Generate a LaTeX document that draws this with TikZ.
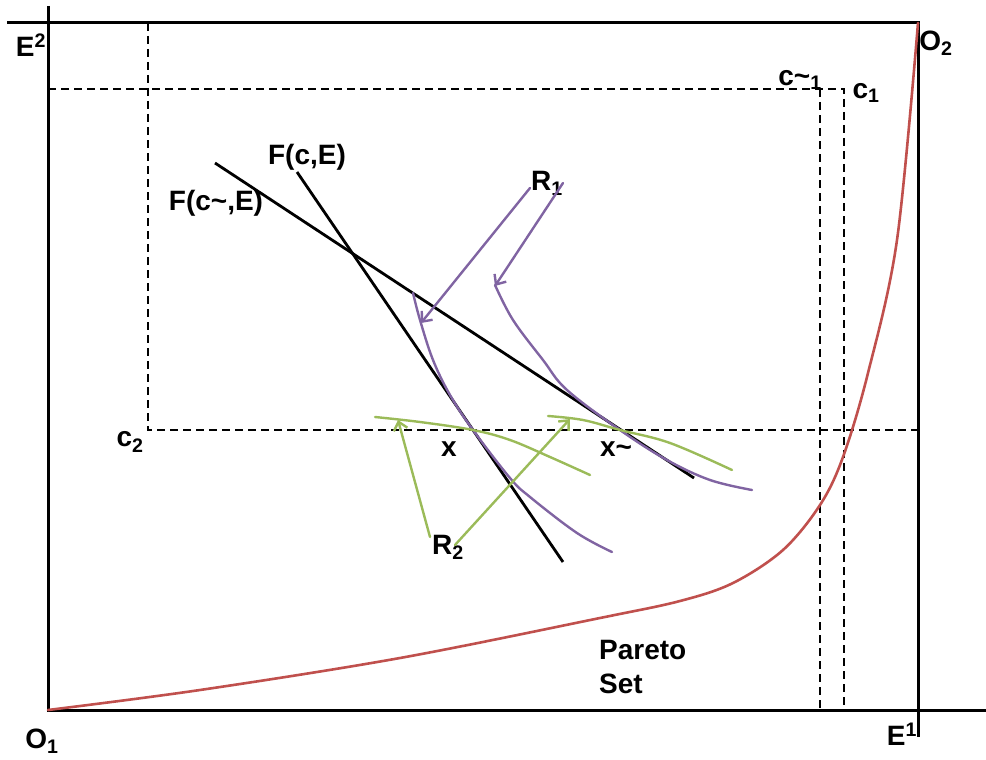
\documentclass[tikz,border=0pt]{standalone}
\usepackage{fontspec}
\setmainfont{Liberation Sans}
\usetikzlibrary{arrows.meta}
\definecolor{parred}{HTML}{C0504D}
\definecolor{indpurple}{HTML}{8064A2}
\definecolor{indgreen}{HTML}{9BBB59}
\begin{document}
\begin{tikzpicture}[x=1pt,y=-1pt,
  axis/.style={line width=3pt,black},
  dashline/.style={line width=2.8pt,black,dash pattern=on 8pt off 5pt},
  budget/.style={line width=2.8pt,black},
  purplecurve/.style={line width=2.4pt,indpurple,line cap=round},
  greencurve/.style={line width=2.4pt,indgreen,line cap=round},
  parcurve/.style={line width=2.6pt,parred,line cap=round},
  barb/.style={-{Straight Barb[length=8pt,width=14pt,line width=2.4pt]}},
  lbl/.style={font=\fontsize{28}{34}\selectfont\bfseries,inner sep=0pt}]
\useasboundingbox (0,0) rectangle (986,760);
% corner coordinates
\coordinate (O1) at (48,710);
\coordinate (O2) at (918,23);
\coordinate (lefttop) at (48,6);
\coordinate (topleft) at (7,23);
\coordinate (rightend) at (986,710);
\coordinate (rightbottom) at (918,737);
% axes / box
\draw[axis] (lefttop) -- (O1) -- (rightend);
\draw[axis] (topleft) -- (O2) -- (rightbottom);
% dashed lines
\coordinate (c2top) at (148,23);
\coordinate (c2corner) at (148,430);
\coordinate (c2right) at (918,430);
\coordinate (c1left) at (48,89);
\coordinate (ct1top) at (820,89);
\coordinate (c1top) at (844,89);
\coordinate (ct1bot) at (820,710);
\coordinate (c1bot) at (844,710);
\draw[dashline] (c2top) -- (c2corner) -- (c2right);
\draw[dashline] (c1left) -- (c1top) -- (c1bot);
\draw[dashline] (ct1top) -- (ct1bot);
% budget lines
\coordinate (Ft1) at (215,163);
\coordinate (Ft2) at (694,478);
\coordinate (F1) at (297,172);
\coordinate (F2) at (563,562);
\draw[budget] (Ft1) -- (Ft2);
\draw[budget] (F1) -- (F2);
% Pareto set
\draw[parcurve] plot[smooth,tension=0.55] coordinates {(48,710) (200,690) (400,658) (600,618) (680,601) (733,583) (783,550) (820,505) (843,457) (868,373) (897,240) (918,23)};
% purple indifference curves
\draw[purplecurve] plot[smooth,tension=0.6] coordinates {(413,293) (420,320) (433,360) (450,395) (473,430) (510,478) (530,497) (577,533) (612,552)};
\draw[purplecurve] plot[smooth,tension=0.6] coordinates {(495,285) (513,320) (543,360) (567,390) (620,430) (667,460) (710,480) (752,490)};
% green indifference curves
\draw[greencurve] plot[smooth,tension=0.6] coordinates {(375,417) (420,422) (473,430) (510,440) (550,457) (590,475)};
\draw[greencurve] plot[smooth,tension=0.6] coordinates {(548,416) (583,420) (620,430) (670,443) (732,470)};
% labels
\node[lbl] (E2) at (31,45) {E\textsuperscript{2}};
\node[lbl] (O2l) at (936,43) {O\textsubscript{2}};
\node[lbl] (ct1) at (800,80) {c\textasciitilde\textsubscript{1}};
\node[lbl] (c1) at (866,93) {c\textsubscript{1}};
\node[lbl] (c2) at (130,442) {c\textsubscript{2}};
\node[lbl] (O1l) at (42,741) {O\textsubscript{1}};
\node[lbl] (E1) at (902,734) {E\textsuperscript{1}};
\node[lbl] (FcE) at (307,157) {F(c,E)};
\node[lbl] (FctE) at (216,203) {F(c\textasciitilde,E)};
\node[lbl] (R1) at (547,183) {R\textsubscript{1}};
\node[lbl] (x) at (449,449) {x};
\node[lbl] (xt) at (616,449) {x\textasciitilde};
\node[lbl] (R2) at (448,547) {R\textsubscript{2}};
\node[lbl,align=left,anchor=north west] (pareto) at (599,640) {Pareto\\Set};
% arrows
\coordinate (R1a) at (530,188);
\coordinate (R1b) at (563,183);
\coordinate (R1ta) at (421,323);
\coordinate (R1tb) at (495,286);
\draw[purplecurve,barb] (R1a) -- (R1ta);
\draw[purplecurve,barb] (R1b) -- (R1tb);
\coordinate (R2a) at (430,537);
\coordinate (R2b) at (455,545);
\coordinate (R2ta) at (398,420);
\coordinate (R2tb) at (570,419);
\draw[greencurve,barb] (R2a) -- (R2ta);
\draw[greencurve,barb] (R2b) -- (R2tb);
\end{tikzpicture}
\end{document}
